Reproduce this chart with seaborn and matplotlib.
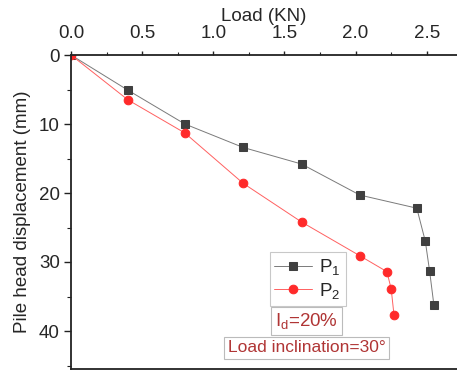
import matplotlib
matplotlib.use("Agg")
import matplotlib.pyplot as plt
import seaborn as sns
import pandas as pd
from matplotlib.ticker import MultipleLocator

load_p1 = [0.0, 0.40, 0.80, 1.21, 1.62, 2.03, 2.43, 2.49, 2.52, 2.55]
disp_p1 = [0.0, 5.1, 10.0, 13.4, 15.8, 20.3, 22.2, 27.0, 31.3, 36.2]
load_p2 = [0.0, 0.40, 0.80, 1.21, 1.62, 2.03, 2.22, 2.25, 2.27]
disp_p2 = [0.0, 6.5, 11.3, 18.6, 24.2, 29.1, 31.4, 33.9, 37.7]
xticks = [0.0, 0.5, 1.0, 1.5, 2.0, 2.5]
yticks = [0, 10, 20, 30, 40]

sns.set_style("ticks")
plt.rcParams['font.family'] = ['Liberation Sans', 'DejaVu Sans']
plt.rcParams['mathtext.fontset'] = 'custom'
plt.rcParams['mathtext.rm'] = 'Liberation Sans'
plt.rcParams['mathtext.it'] = 'Liberation Sans'

fs = 13.5
fig = plt.figure(figsize=(4.57, 3.75), dpi=100)
ax = fig.add_axes([71/457, 1 - 369/375, 386/457, (369 - 55)/375])

df1 = pd.DataFrame({"load": load_p1, "disp": disp_p1})
df2 = pd.DataFrame({"load": load_p2, "disp": disp_p2})

sns.lineplot(data=df1, x="load", y="disp", sort=False, ax=ax, color="#7a7a7a",
             lw=0.7, marker="s", markersize=5.2, markerfacecolor="#404040",
             markeredgecolor="#404040", label="P$_1$")
sns.lineplot(data=df2, x="load", y="disp", sort=False, ax=ax, color="#ff6060",
             lw=0.7, marker="o", markersize=6.2, markerfacecolor="#ff2a2a",
             markeredgecolor="#ff2a2a", label="P$_2$")

ax.set_xlim(0, 386/142.3)
ax.set_ylim((369 - 55)/6.9, 0)
ax.xaxis.tick_top()
ax.xaxis.set_label_position("top")
ax.set_xticks(xticks)
ax.set_yticks(yticks)
ax.set_xticklabels([f"{v:.1f}" for v in xticks])
ax.xaxis.set_minor_locator(MultipleLocator(0.25))
ax.yaxis.set_minor_locator(MultipleLocator(5))
ax.tick_params(which="both", labelsize=fs, color="#222222", direction="out")
ax.tick_params(axis="x", which="major", length=3, width=1.0, pad=6)
ax.tick_params(axis="x", which="minor", length=2, width=0.8)
ax.tick_params(axis="y", which="major", length=5, width=1.0, pad=3)
ax.tick_params(axis="y", which="minor", length=3, width=0.8)
ax.tick_params(axis="x", which="both", top=True, bottom=False)
ax.set_xlabel("Load (KN)", fontsize=fs, labelpad=3)
ax.set_ylabel("Pile head displacement (mm)", fontsize=fs, labelpad=6)
for s in ["left", "top", "bottom"]:
    ax.spines[s].set_visible(True)
    ax.spines[s].set_linewidth(1.3)
    ax.spines[s].set_color("#222222")
ax.spines["right"].set_visible(False)

leg = ax.legend(loc="center", bbox_to_anchor=((307.7 - 71)/386, 1 - (279 - 55)/314),
                fontsize=fs, frameon=True, fancybox=False, edgecolor="#bbbbbb",
                handlelength=2.0, borderpad=0.25, labelspacing=0.2, handletextpad=0.4)
leg.get_frame().set_linewidth(0.8)

tc = "#b03535"
ax.text((306.7 - 71)/386, 1 - (321 - 55)/314, "I$_\\mathregular{d}$=20%", transform=ax.transAxes,
        ha="center", va="center", fontsize=fs, color=tc,
        bbox=dict(boxstyle="square,pad=0.2", fc="white", ec="#bbbbbb", lw=0.8))
ax.text((306.7 - 71)/386, 1 - (348 - 55)/314, "Load inclination=30°", transform=ax.transAxes,
        ha="center", va="center", fontsize=12.5, color=tc,
        bbox=dict(boxstyle="square,pad=0.2", fc="white", ec="#bbbbbb", lw=0.8))

fig.savefig("out.png", dpi=100)
